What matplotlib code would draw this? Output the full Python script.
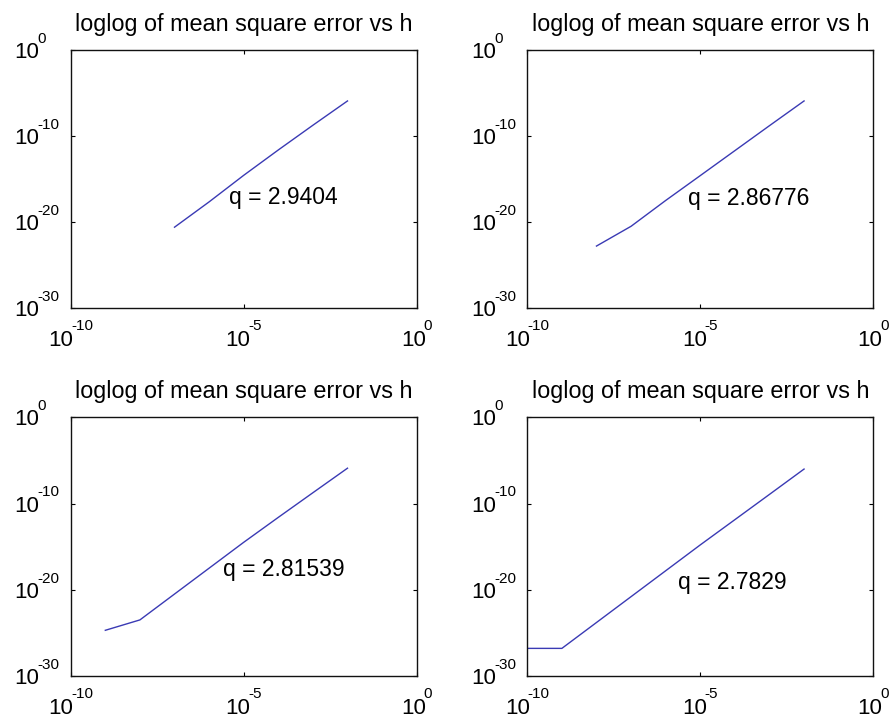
import numpy as np
import matplotlib.pyplot as plt
from matplotlib.font_manager import FontProperties
from matplotlib.textpath import text_to_path

plt.rcParams['font.family'] = ['Liberation Sans', 'DejaVu Sans']

# step sizes and mean square errors for each run
h1 = [1e-7, 1e-6, 1e-5, 1e-4, 1e-3, 1e-2]
err1 = [2.5e-21, 2.2e-18, 2.7e-15, 2.4e-12, 1.8e-9, 1.2e-6]

h2 = [1e-8, 1e-7, 1e-6, 1e-5, 1e-4, 1e-3, 1e-2]
err2 = [1.6e-23, 3.2e-21, 3.2e-18, 2.5e-15, 2.0e-12, 1.6e-9, 1.2e-6]

h3 = [1e-9, 1e-8, 1e-7, 1e-6, 1e-5, 1e-4, 1e-3, 1e-2]
err3 = [2.0e-25, 3.2e-24, 3.2e-21, 3.2e-18, 3.2e-15, 2.5e-12, 1.8e-9, 1.26e-6]

h4 = [1e-10, 1e-9, 1e-8, 1e-7, 1e-6, 1e-5, 1e-4, 1e-3, 1e-2]
err4 = [1.6e-27, 1.6e-27, 1.6e-24, 1.6e-21, 1.6e-18, 1.6e-15, 1.35e-12, 1.15e-9, 1.0e-6]

q_values = ['2.9404', '2.86776', '2.81539', '2.7829']
q_pos = [(10**-5.42, 10**-17.1), (10**-5.35, 10**-17.3),
         (10**-5.61, 10**-17.6), (10**-5.65, 10**-19.2)]

x_exps = [-10, -5, 0]
y_exps = [-30, -20, -10, 0]

runs = [(h1, err1), (h2, err2), (h3, err3), (h4, err4)]

BASE_SIZE = 16
EXP_SIZE = 11
CAP = 0.716  # digit height as a fraction of the font size


def width_pt(s, size):
    w, _, _ = text_to_path.get_text_width_height_descent(
        s, FontProperties(family='Liberation Sans', size=size), ismath=False)
    return w


def power_labels(ax):
    # MATLAB-style "10" with a raised exponent, drawn as two text pieces
    w10 = width_pt('10', BASE_SIZE) - 1.5
    cap10 = CAP * BASE_SIZE
    for e in x_exps:
        s = str(e)
        total = w10 + width_pt(s, EXP_SIZE)
        base_y = -27.0
        ax.annotate('10', xy=(10.0 ** e, 0), xycoords=('data', 'axes fraction'),
                    xytext=(-total / 2, base_y), textcoords='offset points',
                    ha='left', va='baseline', fontsize=BASE_SIZE,
                    annotation_clip=False)
        ax.annotate(s, xy=(10.0 ** e, 0), xycoords=('data', 'axes fraction'),
                    xytext=(-total / 2 + w10, base_y + cap10 - 0.5),
                    textcoords='offset points', ha='left', va='baseline',
                    fontsize=EXP_SIZE, annotation_clip=False)
    for e in y_exps:
        s = str(e)
        left = -40.3
        ax.annotate('10', xy=(0, 10.0 ** e), xycoords=('axes fraction', 'data'),
                    xytext=(left, -cap10 / 2), textcoords='offset points',
                    ha='left', va='baseline', fontsize=BASE_SIZE,
                    annotation_clip=False)
        ax.annotate(s, xy=(0, 10.0 ** e), xycoords=('axes fraction', 'data'),
                    xytext=(left + w10, cap10 / 2 - 0.5), textcoords='offset points',
                    ha='left', va='baseline', fontsize=EXP_SIZE,
                    annotation_clip=False)


fig = plt.figure(figsize=(8.94, 7.21), dpi=100)
boxes = [[0.0791, 0.5728, 0.387, 0.3578],
         [0.5898, 0.5728, 0.387, 0.3578],
         [0.0791, 0.0624, 0.387, 0.3588],
         [0.5898, 0.0624, 0.387, 0.3588]]

for k, (h, err) in enumerate(runs):
    ax = fig.add_axes(boxes[k])
    ax.loglog(h, err, color='#3a3ab4', lw=1.0)
    ax.set_xlim(1e-10, 1e0)
    ax.set_ylim(1e-30, 1e0)
    ax.set_xticks([10.0 ** e for e in x_exps])
    ax.set_yticks([10.0 ** e for e in y_exps])
    ax.set_xticklabels([])
    ax.set_yticklabels([])
    ax.minorticks_off()
    ax.tick_params(which='both', direction='in', top=True, right=True,
                   length=3, width=0.8)
    for s in ax.spines.values():
        s.set_linewidth(1.0)
        s.set_color('#111111')
    power_labels(ax)
    ax.set_title('loglog of mean square error vs h', fontsize=16.8, pad=14)
    x, y = q_pos[k]
    ax.text(x, y, 'q = ' + q_values[k], fontsize=16.5, ha='left', va='center')

fig.savefig('out.png', dpi=100)
